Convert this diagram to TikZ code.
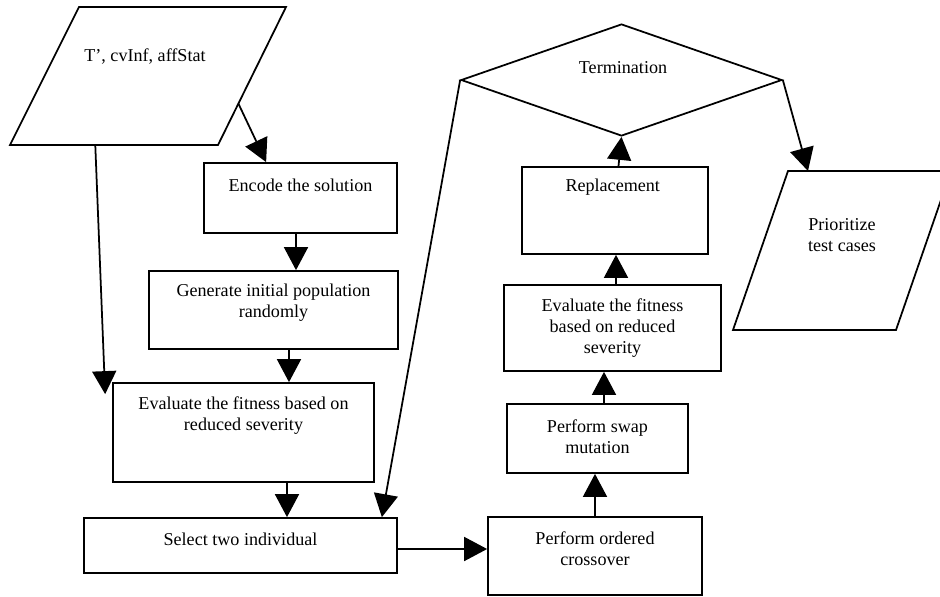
\documentclass[tikz,border=0pt]{standalone}
\usepackage{fontspec}
\setmainfont{Liberation Serif}
\usetikzlibrary{shapes.geometric,arrows.meta,calc}

\begin{document}
\begin{tikzpicture}[
            x=0.02cm, y=-0.02cm,
            line width=1pt,
            box/.style={
                draw,
                inner sep=0pt
            },
            txt/.style={
                align=center,
                inner sep=0pt,
                font=\fontsize{10.3}{12}\selectfont
            },
            arr/.style={
                -{Triangle[length=0.46cm,width=0.48cm]}
            }
        ]
            \useasboundingbox (0,0) rectangle (940,596);

            % process boxes
            \foreach \name/\x/\y/\w/\h/\ty/\txt in {
                encode/300.5/198/3.86/1.40/185/{Encode the solution},
                gen/273.5/310/4.98/1.56/303/{Generate initial population\\randomly},
                evalA/243.5/432.5/5.22/1.98/415.5/{Evaluate the fitness based on\\reduced severity},
                select/240.5/545.5/6.26/1.10/539/{Select two individual},
                cross/595/556/4.28/1.56/548.5/{Perform ordered\\crossover},
                swap/597.5/438.5/3.62/1.38/437/{Perform swap\\mutation},
                evalB/612.5/328/4.34/1.72/328/{Evaluate the fitness\\based on reduced\\severity},
                repl/615/210.5/3.72/1.74/187/{Replacement}
            } {
                \node[box, minimum width=\w cm, minimum height=\h cm] (\name) at (\x,\y) {};
                \node[txt] (\name-txt) at (\x,\ty) {\txt};
            }

            % input and output
            \draw (79,7) coordinate (in-nw) -- (286,7) coordinate (in-ne)
                -- (218,145) coordinate (in-se) -- (10,145) coordinate (in-sw) -- cycle;
            \node[txt] (in) at (145,57) {T’, cvInf, affStat};
            \draw (788,171) coordinate (out-nw) -- (951,171) coordinate (out-ne)
                -- (896,330) coordinate (out-se) -- (733,330) coordinate (out-sw) -- cycle;
            \node[txt] (out) at (842,235) {Prioritize\\test cases};

            % decision
            \node[draw, diamond, inner sep=0pt, minimum width=6.42cm, minimum height=2.24cm] (term) at (621.5,80) {};
            \node[txt] (term-txt) at (623,68) {Termination};

            % arrows
            \draw[arr] ($(in-se)!0.3!(in-ne)$) -- ([xshift=1.26cm]encode.north west);
            \draw[arr] ($(in-sw)!0.41!(in-se)$) -- ([xshift=-0.14cm,yshift=-0.24cm]evalA.north west);
            \draw[arr] ([xshift=-0.09cm]encode.south) -- ([xshift=-0.09cm]encode.south |- gen.north);
            \draw[arr] ([xshift=0.31cm]gen.south) -- ([xshift=0.31cm]gen.south |- evalA.north);
            \draw[arr] ([xshift=0.87cm]evalA.south) -- ([xshift=0.87cm]evalA.south |- select.north);
            \draw[arr] ([yshift=-0.07cm]select.east) -- ([yshift=-0.07cm]select.east -| cross.west);
            \draw[arr] (cross.north) -- (cross.north |- swap.south);
            \draw[arr] ([xshift=0.13cm]swap.north) -- ([xshift=0.13cm]swap.north |- evalB.south);
            \draw[arr] ([xshift=0.07cm]evalB.north) -- ([xshift=0.07cm]evalB.north |- repl.south);
            \draw[arr] ([xshift=0.07cm]repl.north) -- (term.south);
            \draw[arr] (term.west) -- ([xshift=-0.32cm]select.north east);
            \draw[arr] (term.east) -- ([xshift=0.4cm]out-nw);
        \end{tikzpicture}
\end{document}
